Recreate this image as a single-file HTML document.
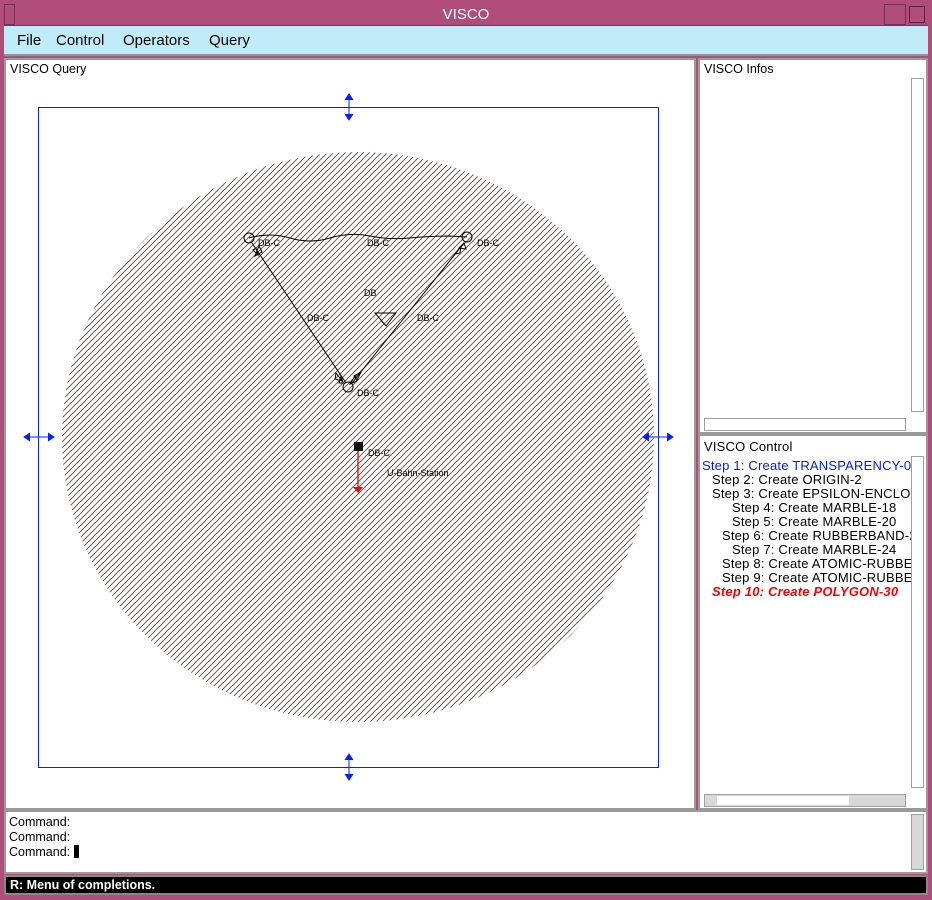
<!DOCTYPE html>
<html><head><meta charset="utf-8">
<style>
*{box-sizing:border-box;margin:0;padding:0}
body{width:932px;height:900px;background:#b04e79;position:relative;overflow:hidden;font-family:"Liberation Sans",sans-serif}
.abs{position:absolute}
.panel{background:#fff;border:2px solid #9a9a9a}
.t{font-size:12.5px;color:#000;white-space:nowrap;position:absolute}
.sb{position:absolute;background:#d8d8d8;border:1px solid #a0a0a0}
#control-panel .t{font-size:13px;letter-spacing:0.2px}
</style></head><body>
<div class="abs" style="left:4px;top:4px;width:924px;height:22px;background:#b04e79;border-bottom:1px solid #7a3050">
  <div class="abs" style="left:0;top:0;width:11px;height:21px;border:1px solid #7a3050"></div>
  <div class="abs" style="left:0;width:924px;top:2px;text-align:center;color:#fff;font-size:15px">VISCO</div>
  <div class="abs" style="left:880px;top:0;width:22px;height:21px;border:1px solid #7a3050"></div>
  <div class="abs" style="left:905px;top:2px;width:16px;height:17px;border:1px solid #5a2040"></div>
</div>
<div class="abs" style="left:4px;top:26px;width:924px;height:30px;background:#c0ecf9;border-bottom:2px solid #7a9aa8;font-size:15px">
  <span class="abs" style="left:13px;top:6px">File</span>
  <span class="abs" style="left:52px;top:6px">Control</span>
  <span class="abs" style="left:119px;top:6px">Operators</span>
  <span class="abs" style="left:205px;top:6px">Query</span>
</div>
<div class="abs panel" style="left:4px;top:58px;width:692px;height:752px">
  <div class="t" style="left:4px;top:2px">VISCO Query</div>
  <svg class="abs" style="left:-2px;top:-2px" width="692" height="752">
    <defs>
      <pattern id="h" patternUnits="userSpaceOnUse" width="6" height="6">
        <rect width="6" height="6" fill="#fff"/>
        <path d="M-1 7L7 -1M-1 1L1 -1M5 7L7 5" stroke="#6e4840" stroke-width="0.95"/>
      </pattern>
    </defs>
    <g transform="translate(-4,-58)">
      <ellipse cx="358" cy="437" rx="296" ry="285" fill="url(#h)"/>
      <rect x="38.5" y="107.5" width="620" height="660" fill="none" stroke="#0020ff" stroke-width="1"/>
      <g fill="#0020ff" stroke="#0020ff">
        <path d="M349 94v26M345 100l4-6 4 6M345 114l4 6 4-6"/>
        <path d="M349 754v26M345 760l4-6 4 6M345 774l4 6 4-6"/>
        <path d="M24 437h30M30 433l-6 4 6 4M48 433l6 4-6 4"/>
        <path d="M643 437h30M649 433l-6 4 6 4M667 433l6 4-6 4"/>
      </g>
      <g stroke="#000" fill="none" stroke-width="1">
        <path d="M249 238 Q270 232 290 238 T330 238 T370 236 T410 238 T450 236 L467 237"/>
        <line x1="252" y1="243" x2="346" y2="383"/>
        <line x1="464" y1="243" x2="352" y2="383"/>
        <circle cx="249" cy="238" r="5" fill="none"/>
        <circle cx="467" cy="237" r="5" fill="none"/>
        <circle cx="348" cy="387" r="5" fill="none"/>
        <path d="M375 313h21l-10 13z"/>
        <path d="M253 250l5 5-2-7zM259 246l-4 10 7-4z"/>
        <path d="M459 248l5-5 2 6zM455 254l6-8-1 7z"/>
        <path d="M336 373l6 8-7-2zM341 376l-2 7 4 0z"/>
        <path d="M355 376l-5 8 7-3zM361 372l-4 8-3-4z"/>
      </g>
      <g font-size="9" font-family="Liberation Sans,sans-serif" fill="#000">
        <text x="258" y="246">DB-C</text><text x="367" y="246">DB-C</text><text x="477" y="246">DB-C</text>
        <text x="364" y="296">DB</text><text x="307" y="321">DB-C</text><text x="417" y="321">DB-C</text>
        <text x="357" y="396">DB-C</text><text x="368" y="456">DB-C</text>
        <text x="387" y="476">U-Bahn-Station</text>
      </g>
      <rect x="354" y="442" width="9" height="9" fill="#111"/>
      <line x1="358" y1="451" x2="358" y2="488" stroke="#f00" stroke-width="1.3"/>
      <path d="M353 487h10l-5 6z" fill="#f00"/>
    </g>
  </svg>
</div>
<div class="abs panel" style="left:698px;top:58px;width:230px;height:376px">
  <div class="t" style="left:4px;top:2px">VISCO Infos</div>
  <div class="sb" style="left:211px;top:18px;width:13px;height:334px;background:#fff"></div>
  <div class="sb" style="left:4px;top:358px;width:202px;height:13px;background:#fff"></div>
</div>
<div class="abs panel" id="control-panel" style="left:698px;top:434px;width:230px;height:376px;overflow:hidden">
  <div class="t" style="left:4px;top:3px">VISCO Control</div>
  <div class="t" style="left:2px;top:22px;color:#0018ff">Step 1: Create TRANSPARENCY-0</div>
  <div class="t" style="left:12px;top:36px">Step 2: Create ORIGIN-2</div>
  <div class="t" style="left:12px;top:50px">Step 3: Create EPSILON-ENCLOS</div>
  <div class="t" style="left:32px;top:64px">Step 4: Create MARBLE-18</div>
  <div class="t" style="left:32px;top:78px">Step 5: Create MARBLE-20</div>
  <div class="t" style="left:22px;top:92px">Step 6: Create RUBBERBAND-2</div>
  <div class="t" style="left:32px;top:106px">Step 7: Create MARBLE-24</div>
  <div class="t" style="left:22px;top:120px">Step 8: Create ATOMIC-RUBBE</div>
  <div class="t" style="left:22px;top:134px">Step 9: Create ATOMIC-RUBBE</div>
  <div class="t" style="left:12px;top:148px;color:#f00;font-weight:bold;font-style:italic">Step 10: Create POLYGON-30</div>
  <div class="sb" style="left:211px;top:20px;width:13px;height:332px;background:#fff;border-color:#a0a0a0"></div>
  <div class="sb" style="left:4px;top:358px;width:202px;height:13px"><div class="abs" style="left:12px;top:1px;width:132px;height:9px;background:#fff"></div></div>
</div>
<div class="abs panel" style="left:4px;top:810px;width:924px;height:64px;font-size:12.5px">
  <div class="t" style="left:3px;top:3px">Command:</div>
  <div class="t" style="left:3px;top:18px">Command:</div>
  <div class="t" style="left:3px;top:33px">Command: <span style="display:inline-block;width:5px;height:13px;background:#000;vertical-align:-2px"></span></div>
  <div class="sb" style="left:905px;top:2px;width:13px;height:56px"></div>
</div>
<div class="abs" style="left:4px;top:875px;width:924px;height:20px;background:#000;border:2px solid #888;color:#fff;font-weight:bold;font-size:12.5px;padding:1px 4px">R: Menu of completions.</div>
</body></html>
